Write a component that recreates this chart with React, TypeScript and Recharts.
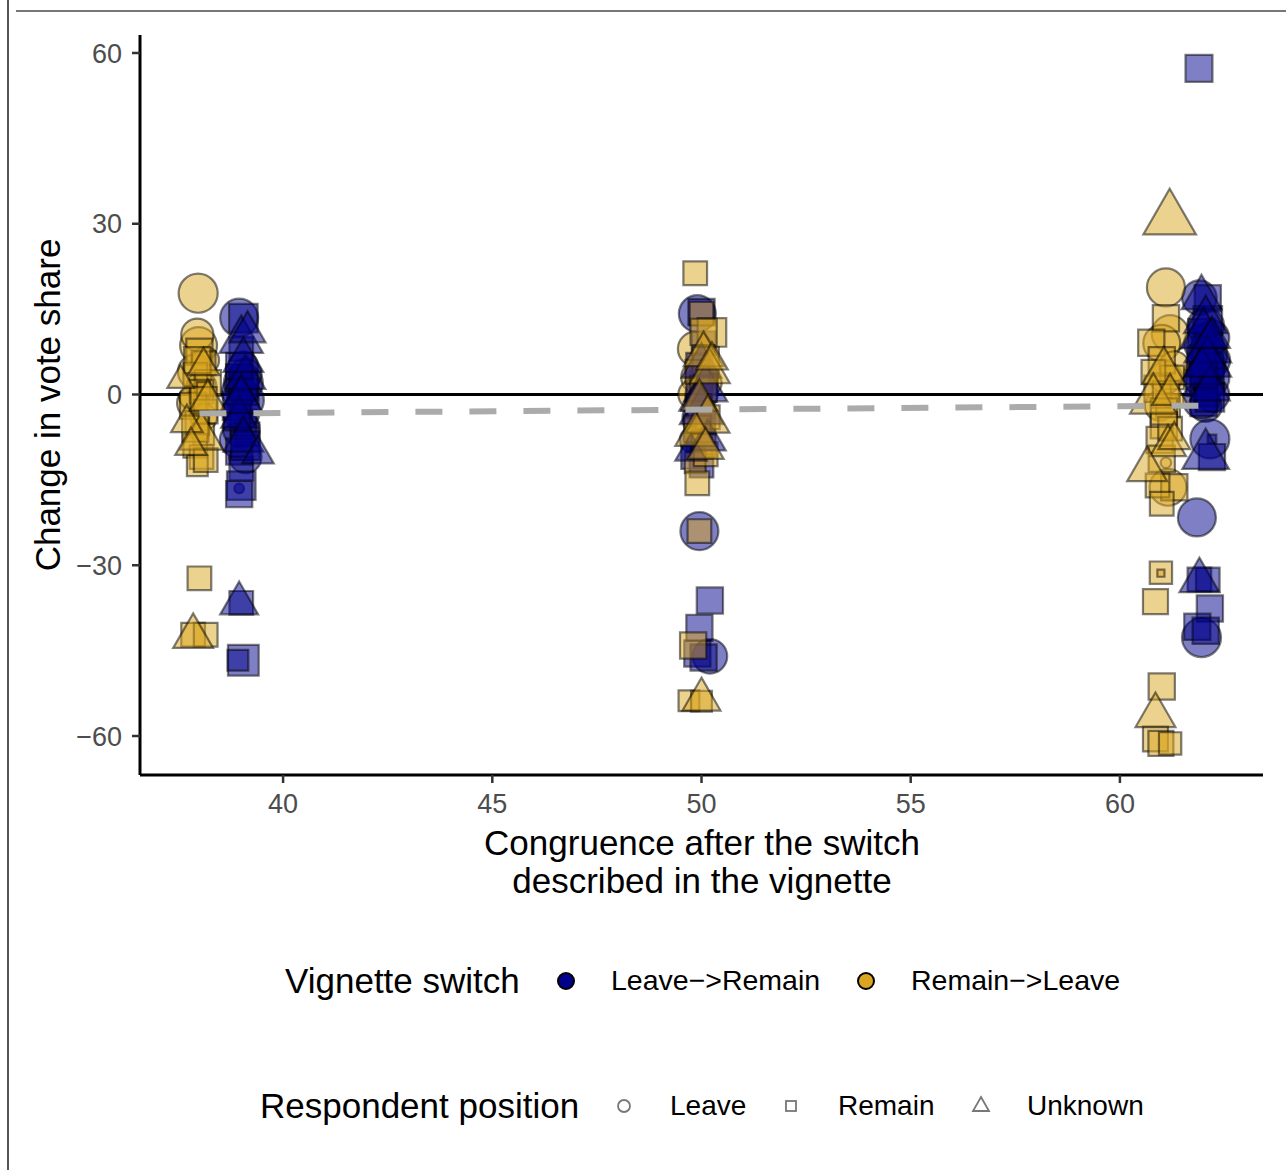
import { ReferenceLine, Scatter, ScatterChart, XAxis, YAxis, ZAxis } from 'recharts'

// [congruence, change in vote share, respondents]
type Pt = [number, number, number]

// Leave->Remain vignettes
const lrLeave: Pt[] = [
  [38.95, 13.5, 9.5], [39.05, 2, 10], [39.0, -3, 9], [38.9, -8, 8], [39.1, -11, 7], [39.05, 5, 6],
  [38.95, -16.5, 1.2], [39.1, -1, 9], [38.95, 0.5, 8], [39.0, -6, 9], [39.1, 3.5, 7],
  [49.9, 14.2, 9], [50.0, 0, 7], [49.9, -4, 6], [49.95, -24, 9.5], [50.2, -46, 8], [49.8, -8, 5],
  [50.05, 3, 6],
  [61.9, 17, 8], [62.05, 12, 9], [62.1, 7, 10], [61.95, 3, 9], [62.2, 0, 8], [62.05, -2, 7],
  [62.15, -7.8, 10], [61.84, -21.6, 9.5], [61.95, -42.7, 10], [62.25, 6, 7],
  [62.0, 9, 10], [62.15, 3, 10], [61.95, -1, 9], [62.2, 10, 8], [62.05, 5, 10],
]
const lrRemain: Pt[] = [
  [39.05, 13.4, 7], [39.0, 8, 5], [38.95, 3, 6], [39.1, 0.5, 6], [38.9, -2, 7], [39.05, -5, 6],
  [39.15, -7, 5], [38.95, -10, 6], [39.0, -13, 5], [39.0, -16, 7], [38.95, -17.5, 6],
  [39.05, 1.5, 7], [38.9, -4, 6], [39.1, -9, 7], [38.95, 5, 6],
  [39.0, -36.6, 5], [39.05, -46.7, 8], [38.92, -46.7, 4],
  [50.0, 14.5, 6], [50.05, 9, 5], [49.95, 5, 6], [50.1, 2, 5], [49.9, -2, 5], [50.05, -5, 5],
  [49.95, -9, 6], [49.8, -11, 5], [50.0, -12.5, 5], [49.95, 0, 6],
  [50.2, -36.2, 6], [49.95, -41, 6], [49.9, -45.5, 6], [50.05, -46.2, 6],
  [61.89, 57.3, 6.3], [62.1, 16.9, 6], [61.95, 11, 6], [62.0, 8, 5], [62.15, 5, 6], [61.9, 2, 6],
  [62.05, 0, 5], [62.2, 2.5, 5], [62.0, -1.5, 6], [62.2, -7.8, 1.2], [62.2, -11, 6],
  [62.1, 13, 7], [61.95, 6, 7], [62.15, -0.5, 7], [62.0, 3.5, 6],
  [61.9, -32.5, 5], [62.1, -32.5, 5], [62.15, -37.6, 6], [61.85, -40.8, 6], [62.05, -41.5, 6],
]
const lrUnknown: Pt[] = [
  [39.0, 9.5, 7], [39.1, 3, 6], [38.95, -4, 5], [39.05, -8, 6], [39.4, -10.5, 4], [39.15, 11, 5],
  [39.0, -1, 7], [39.05, 6, 6],
  [38.95, -36.7, 5.5],
  [50.0, 5, 6], [50.1, 1, 7], [49.9, -1, 5], [49.75, -10, 4], [50.15, -8, 5], [50.0, -3, 7],
  [61.95, 17, 6], [62.05, 13, 7], [62.1, 8, 8], [61.95, 4, 7], [62.15, 1, 6], [62.05, -10.7, 8],
  [62.0, 10.5, 8], [62.1, 5.5, 8],
  [61.9, -32.7, 6], [62.2, 10, 5],
]

// Remain->Leave vignettes
const rlLeave: Pt[] = [
  [37.97, 17.8, 10], [37.98, 8.6, 9], [37.95, 10.5, 7], [37.9, 4, 8], [38.05, 1.5, 6],
  [37.85, -1.5, 7], [38.1, -4, 5], [37.8, -0.5, 4], [38.15, 6, 5], [38.0, -6.5, 3], [38.1, 3, 2],
  [49.85, 8, 8], [49.9, 3, 7], [49.8, 0, 6], [50.0, -3, 5], [49.85, -5, 4], [50.15, -6, 2],
  [49.9, -8, 3], [50.2, 2, 4],
  [61.1, 18.8, 9.5], [61.2, 10.7, 9], [61.0, 9, 9], [61.1, 3, 7], [60.95, -2, 6],
  [61.15, -16.3, 9], [61.1, -12, 1.3], [61.2, -1, 2], [61.3, 5, 6],
]
const rlRemain: Pt[] = [
  [38.0, 7.5, 6], [38.1, 5.5, 5], [37.9, 3.5, 5], [38.2, 2, 6], [38.05, 0.5, 5], [37.85, -2, 6],
  [38.15, -3, 5], [37.95, -5, 5], [38.1, -7, 4], [37.9, -9, 5], [38.05, -11, 5], [37.95, -12.5, 4],
  [38.15, -11.5, 5], [38.1, 1, 2], [37.95, 6, 6], [38.1, -1, 6], [37.9, -6, 6],
  [38.0, -32.3, 5], [37.85, -42.2, 5], [38.15, -42.2, 5],
  [49.85, 21.3, 5], [50.0, 14.2, 5], [50.25, 10.9, 7], [50.1, 6, 6], [49.9, 4, 5], [50.05, 1, 6],
  [49.95, -2, 5], [50.15, -4, 5], [49.9, -6, 6], [50.05, -9, 5], [49.85, -12, 4], [49.9, -15.6, 5],
  [50.1, -10.5, 5], [50.05, 11, 6], [49.95, -24, 5], [49.8, -44.1, 6], [49.7, -53.8, 4],
  [50.0, -53.9, 4],
  [61.1, 13.4, 6], [60.75, 9.1, 6], [61.0, 6, 6], [61.25, 3, 5], [60.9, 1, 6], [61.15, -2, 5],
  [61.05, -5.4, 6], [60.95, -8, 6], [61.0, -11.3, 6], [61.3, -16.3, 6], [60.9, -16, 5],
  [61.0, -19.2, 5], [61.2, -6, 5], [60.8, 4, 5], [61.1, 0, 6], [61.05, -3, 6],
  [60.98, -31.3, 4.5], [60.98, -31.4, 1], [60.85, -36.4, 5.5], [61.0, -51.3, 6],
  [60.85, -60.5, 5.5], [60.98, -61.3, 5.5], [61.2, -61.3, 4.5],
]
const rlUnknown: Pt[] = [
  [37.55, 2.5, 3], [38.05, -7.5, 7], [37.7, -5, 4], [38.2, -1, 5], [37.8, -9, 4], [38.1, 5, 4],
  [37.85, -42.5, 6],
  [50.05, 7, 6], [50.2, 4, 6], [49.95, -1, 5], [50.15, -4.5, 7], [49.85, -7, 6], [50.1, -9.5, 5],
  [50.25, 6, 4], [50.0, -53.6, 5.5],
  [61.19, 30.8, 10], [61.05, 4, 7], [60.8, -1, 8], [61.15, -9, 5], [60.65, -13.2, 6], [61.3, -8, 4],
  [60.85, -56.4, 6], [61.2, 0, 5],
]

// linear fit across all vignettes
const fitLine = [
  { x: 38, y: -3.35 },
  { x: 62, y: -1.95 },
]

const xTicks = [40, 45, 50, 55, 60]
const yTicks = [-60, -30, 0, 30, 60]

const NAVY = '#00008B'
const GOLD = '#DAA520'
const FONT = '"Liberation Sans", Arial, Helvetica, sans-serif'

const rows = (pts: Pt[]) => pts.map(([x, y, n]) => ({ x, y, n }))

const pointStyle = {
  fillOpacity: 0.5,
  stroke: '#000',
  strokeOpacity: 0.5,
  strokeWidth: 2.2,
  isAnimationActive: false,
}

function Legends() {
  const label = { fontFamily: FONT, fontSize: 28, fill: '#000' }
  const title = { fontFamily: FONT, fontSize: 35, fill: '#000' }
  return (
    <svg
      width={1286}
      height={1170}
      style={{ position: 'absolute', left: 0, top: 0, pointerEvents: 'none' }}
    >
      {/* axis titles */}
      <text
        transform="translate(47,405) rotate(-90)"
        textAnchor="middle"
        dominantBaseline="central"
        {...title}
      >
        Change in vote share
      </text>
      <text x={702} y={842} textAnchor="middle" dominantBaseline="central" {...title}>
        Congruence after the switch
      </text>
      <text x={702} y={880} textAnchor="middle" dominantBaseline="central" {...title}>
        described in the vignette
      </text>

      {/* fill legend */}
      <text x={285} y={980} dominantBaseline="central" {...title}>Vignette switch</text>
      <circle cx={566} cy={981} r={8} fill={NAVY} stroke="#000" strokeWidth={2} />
      <text x={611} y={980} dominantBaseline="central" {...label} fontSize={28.5}>Leave−&gt;Remain</text>
      <circle cx={866} cy={981} r={8} fill={GOLD} stroke="#000" strokeWidth={2} />
      <text x={911} y={980} dominantBaseline="central" {...label} fontSize={28.5}>Remain−&gt;Leave</text>

      {/* shape legend */}
      <text x={260} y={1105} dominantBaseline="central" {...title}>Respondent position</text>
      <circle cx={624} cy={1106} r={6} fill="none" stroke="#777" strokeWidth={1.8} />
      <text x={670} y={1105} dominantBaseline="central" {...label}>Leave</text>
      <rect x={786} y={1101} width={10} height={10} fill="none" stroke="#777" strokeWidth={1.8} />
      <text x={838} y={1105} dominantBaseline="central" {...label}>Remain</text>
      <path d="M981,1097 L989,1111 L973,1111 Z" fill="none" stroke="#777" strokeWidth={1.8} />
      <text x={1027} y={1105} dominantBaseline="central" {...label}>Unknown</text>
    </svg>
  )
}

export default function App() {
  return (
    <div
      style={{
        position: 'absolute',
        left: 0,
        top: 0,
        width: 1286,
        height: 1170,
        background: '#fff',
        fontFamily: FONT,
      }}
    >
      <div style={{ position: 'absolute', left: 7, top: 0, width: 1.5, height: 1170, background: '#555' }} />
      <div style={{ position: 'absolute', left: 16, top: 10, width: 1270, height: 1.5, background: '#777' }} />

      <div style={{ position: 'absolute', left: 0, top: 0 }}>
        <ScatterChart width={1286} height={900} margin={{ top: 35, right: 23, bottom: 0, left: 0 }}>
          <XAxis
            type="number"
            dataKey="x"
            domain={[36.58, 63.42]}
            ticks={xTicks}
            allowDataOverflow
            height={125}
            axisLine={{ stroke: '#000', strokeWidth: 3 }}
            tickLine={{ stroke: '#333', strokeWidth: 2.5 }}
            tickSize={8}
            tickMargin={11}
            tick={{ fill: '#4D4D4D', fontSize: 27, fontFamily: FONT }}
          />
          <YAxis
            type="number"
            dataKey="y"
            domain={[-66.85, 63.16]}
            ticks={yTicks}
            allowDataOverflow
            width={140}
            axisLine={{ stroke: '#000', strokeWidth: 3 }}
            tickLine={{ stroke: '#333', strokeWidth: 2.5 }}
            tickSize={8}
            tickMargin={10}
            tick={{ fill: '#4D4D4D', fontSize: 27, fontFamily: FONT }}
            tickFormatter={(v: number) => (v < 0 ? `−${Math.abs(v)}` : `${v}`)}
          />
          <ZAxis type="number" dataKey="n" domain={[1, 10]} range={[50, 1200]} />
          <ReferenceLine y={0} stroke="#000" strokeWidth={3} />

          <Scatter data={rows(lrLeave)} shape="circle" fill={NAVY} {...pointStyle} />
          <Scatter data={rows(rlLeave)} shape="circle" fill={GOLD} {...pointStyle} />
          <Scatter data={rows(lrRemain)} shape="square" fill={NAVY} {...pointStyle} />
          <Scatter data={rows(rlRemain)} shape="square" fill={GOLD} {...pointStyle} />
          <Scatter data={rows(lrUnknown)} shape="triangle" fill={NAVY} {...pointStyle} />
          <Scatter data={rows(rlUnknown)} shape="triangle" fill={GOLD} {...pointStyle} />

          <Scatter
            data={fitLine}
            line={{ stroke: '#ABABAB', strokeWidth: 6, strokeDasharray: '27 27' }}
            shape={() => <g />}
            isAnimationActive={false}
          />
        </ScatterChart>
      </div>

      <Legends />
    </div>
  )
}
